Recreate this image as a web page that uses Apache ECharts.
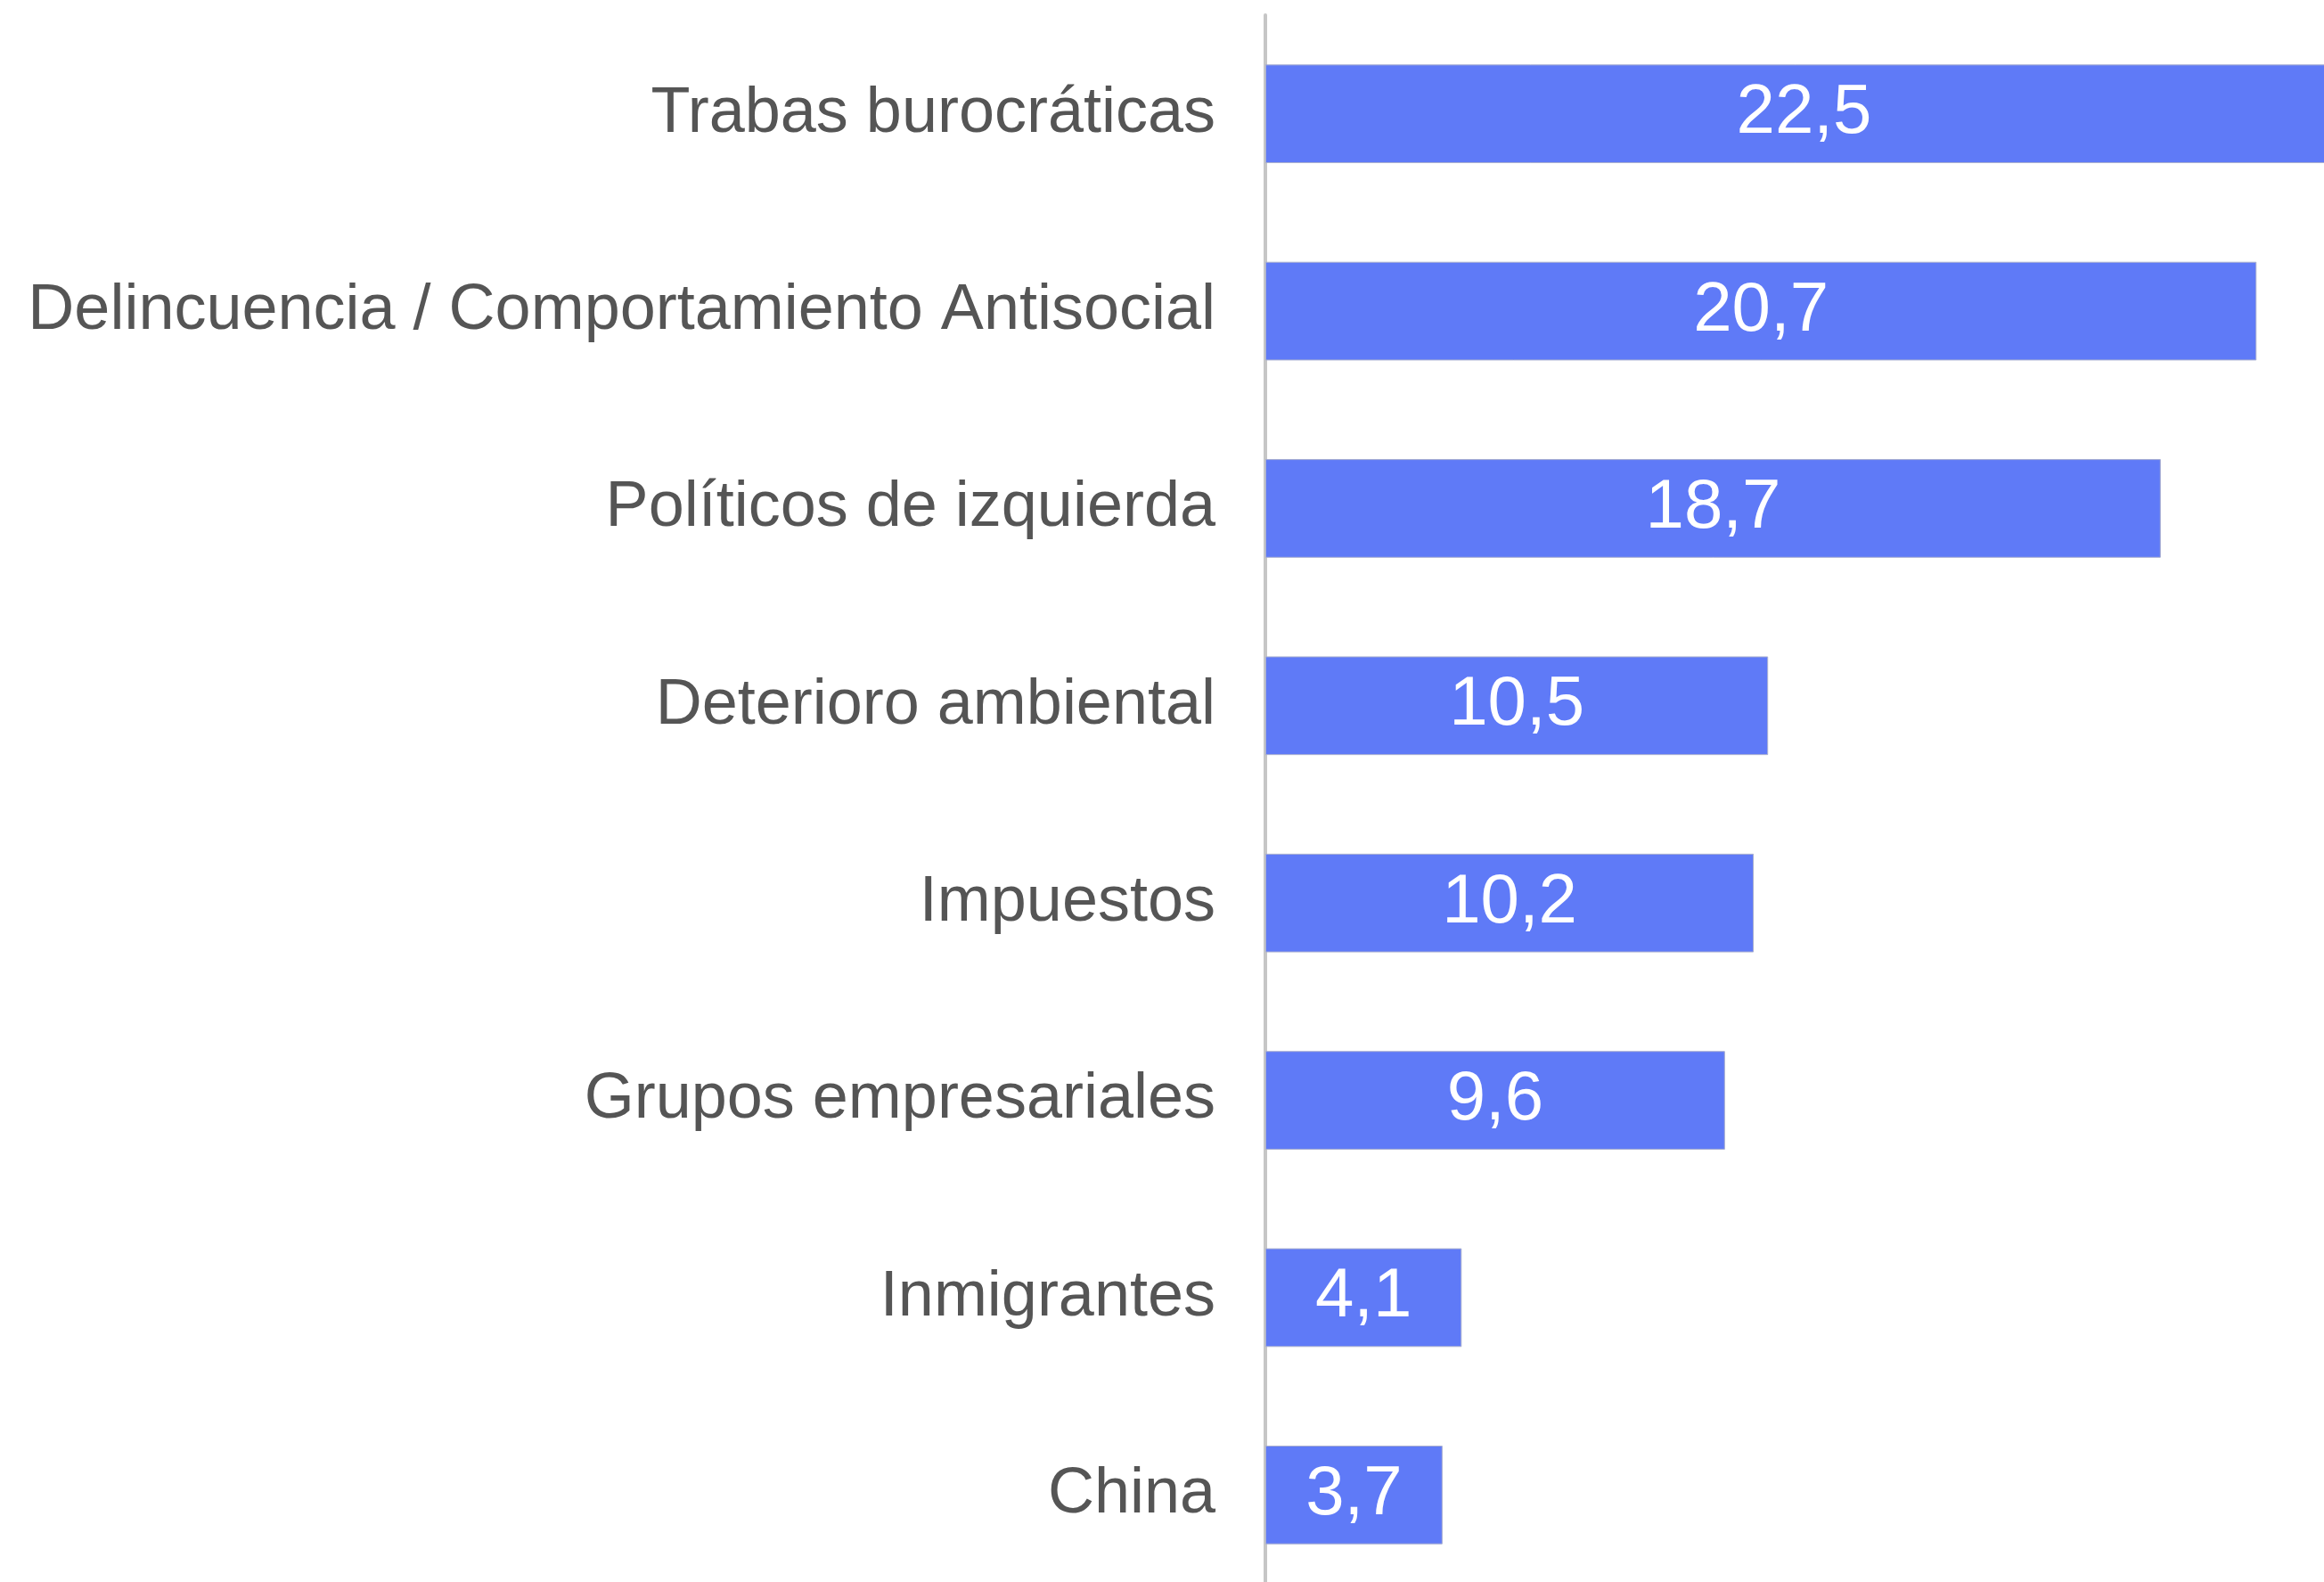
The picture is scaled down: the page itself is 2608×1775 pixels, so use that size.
<!DOCTYPE html>
<html>
<head>
<meta charset="utf-8">
<script src="https://cdn.jsdelivr.net/npm/echarts@6/dist/echarts.min.js"></script>
<style>
  html, body { margin: 0; padding: 0; background: #fff; }
  #chart { width: 2608px; height: 1775px; }
</style>
</head>
<body>
<div id="chart"></div>
<script>
  // categorías (de arriba a abajo)
  let categories = [
    'Trabas burocráticas',
    'Delincuencia / Comportamiento Antisocial',
    'Políticos de izquierda',
    'Deterioro ambiental',
    'Impuestos',
    'Grupos empresariales',
    'Inmigrantes',
    'China'
  ];
  let values = [22.5, 20.7, 18.7, 10.5, 10.2, 9.6, 4.1, 3.7];

  let chart = echarts.init(document.getElementById('chart'));

  let option = {
    animation: false,
    backgroundColor: '#ffffff',
    grid: {
      left: 1420,
      right: -21,
      top: 17,
      bottom: -13,
      outerBoundsMode: 'none'
    },
    xAxis: {
      type: 'value',
      min: 0,
      max: 22.5,
      show: false
    },
    yAxis: {
      type: 'category',
      data: categories,
      inverse: true,
      axisLine: { show: true, lineStyle: { color: '#c6c6c6', width: 4 } },
      axisTick: { show: false },
      axisLabel: {
        margin: 56,
        fontSize: 72,
        fontFamily: 'Liberation Sans, Arial, sans-serif',
        color: '#555555'
      }
    },
    series: [
      {
        type: 'bar',
        data: values,
        barWidth: '50%',
        itemStyle: {
          color: '#5f7af7',
          borderColor: '#a9afcf',
          borderWidth: 1
        },
        label: {
          show: true,
          position: 'inside',
          color: '#ffffff',
          fontSize: 78,
          fontFamily: 'Liberation Sans, Arial, sans-serif',
          formatter: function (p) {
            return String(p.value).replace('.', ',');
          }
        }
      }
    ]
  };

  chart.setOption(option);
</script>
</body>
</html>
